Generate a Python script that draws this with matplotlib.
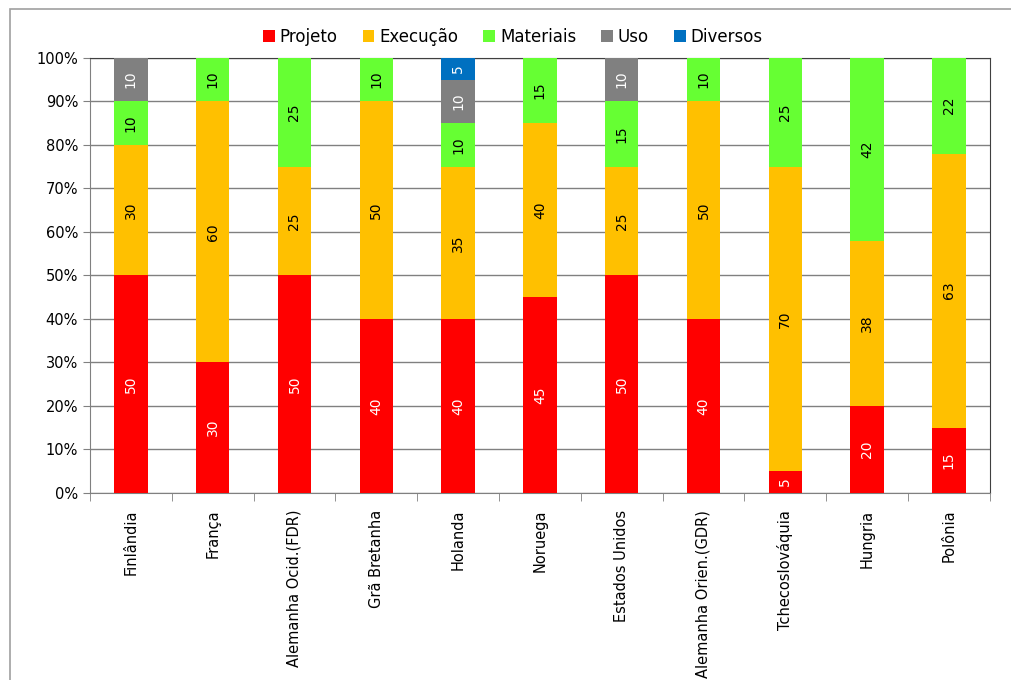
import numpy as np
import matplotlib
matplotlib.use('Agg')
import matplotlib.pyplot as plt
from matplotlib.patches import Rectangle

# Countries and share of each failure cause (%).
paises = ['Finlândia', 'França', 'Alemanha Ocid.(FDR)', 'Grã Bretanha', 'Holanda',
          'Noruega', 'Estados Unidos', 'Alemanha Orien.(GDR)', 'Tchecoslováquia',
          'Hungria', 'Polônia']
projeto = [50, 30, 50, 40, 40, 45, 50, 40, 5, 20, 15]
execucao = [30, 60, 25, 50, 35, 40, 25, 50, 70, 38, 63]
materiais = [10, 10, 25, 10, 10, 15, 15, 10, 25, 42, 22]
uso = [10, 0, 0, 0, 10, 0, 10, 0, 0, 0, 0]
diversos = [0, 0, 0, 0, 5, 0, 0, 0, 0, 0, 0]

series = [('Projeto', projeto, '#ff0000', 'white'),
          ('Execução', execucao, '#ffc000', 'black'),
          ('Materiais', materiais, '#66ff33', 'black'),
          ('Uso', uso, '#808080', 'white'),
          ('Diversos', diversos, '#0070c0', 'white')]

fig = plt.figure(figsize=(10.11, 6.8), dpi=100)
ax = fig.add_axes([0.089, 0.275, 0.890, 0.640])

# Outer chart border
fig.patches.append(Rectangle((10/1011, -0.1), 1.2, 1 - 9/680 + 0.1, transform=fig.transFigure,
                             fill=False, edgecolor='#a0a0a0', linewidth=1.2))

x = np.arange(len(paises))
base = np.zeros(len(paises))
for nome, vals, cor, tcor in series:
    vals = np.array(vals, dtype=float)
    ax.bar(x, vals, 0.41, bottom=base, color=cor, label=nome, zorder=3)
    for xi, b, v in zip(x, base, vals):
        if v > 0:
            ax.text(xi, b + v / 2, '%d' % v, rotation=90, ha='center', va='center',
                    color=tcor, fontsize=10, zorder=4)
    base += vals

ax.set_xlim(-0.5, len(paises) - 0.5)
ax.set_ylim(0, 100)
ax.set_yticks(np.arange(0, 101, 10))
ax.set_yticklabels(['%d%%' % v for v in range(0, 101, 10)], fontsize=10.5)
ax.yaxis.grid(True, color='#808080', linewidth=1, zorder=0)

ax.set_xticks(x)
ax.set_xticklabels(paises, rotation=90, fontsize=10.5)
ax.tick_params(axis='x', length=0, pad=12)
ax.set_xticks(np.arange(-0.5, len(paises), 1), minor=True)
ax.tick_params(axis='x', which='minor', length=6, color='#808080')
ax.tick_params(axis='y', length=5, color='#808080')

for lado in ['left', 'bottom']:
    ax.spines[lado].set_color('#808080')
for lado in ['top', 'right']:
    ax.spines[lado].set_color('#404040')

ax.legend(loc='lower center', bbox_to_anchor=(0.47, 1.005), ncol=5, frameon=False,
          fontsize=12, handlelength=0.7, handleheight=0.7, handletextpad=0.3,
          columnspacing=1.5, borderaxespad=0.2)

fig.savefig('out.png', dpi=100)
